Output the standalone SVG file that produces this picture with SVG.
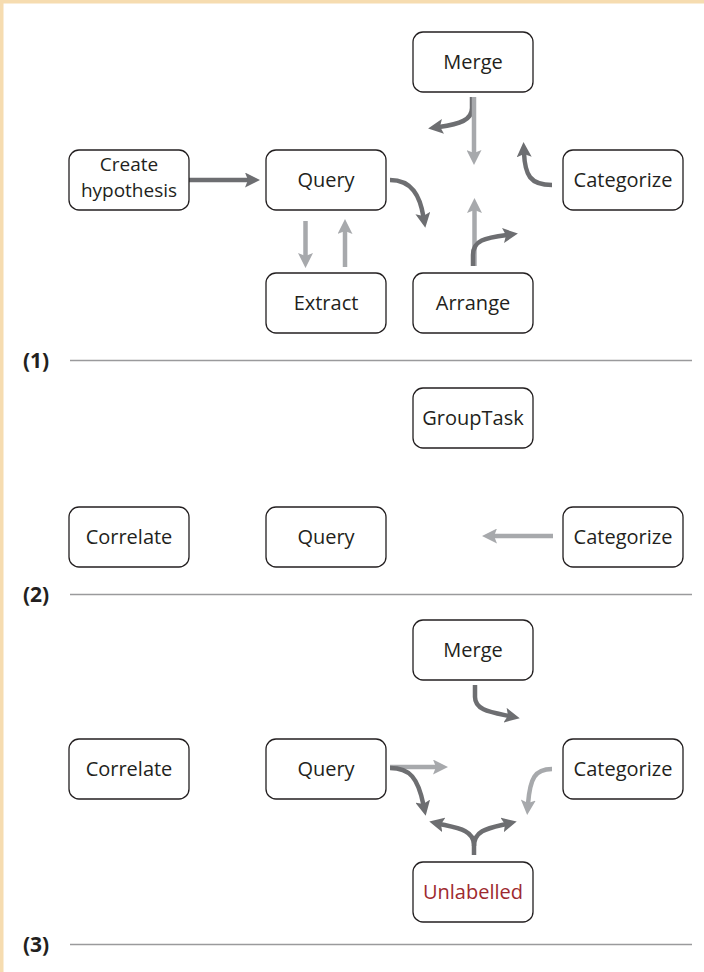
<svg xmlns="http://www.w3.org/2000/svg" width="704" height="972" viewBox="0 0 704 972">
<style>
.box{fill:#fff;stroke:#231f20;stroke-width:1.3}
.lbl{font-family:"Open Sans","Noto Sans",sans-serif;font-size:20px;fill:#231f20;text-anchor:middle}
.sm{font-size:19px}
.red{fill:#9e2a2f}
.num{font-family:"Open Sans","Noto Sans",sans-serif;font-size:21px;font-weight:bold;fill:#231f20}
.div{stroke:#9a9a9c;stroke-width:1.3}
.dk{fill:none;stroke:#6d6e71;stroke-width:4.5;marker-end:url(#ad)}
.lt{fill:none;stroke:#a7a9ac;stroke-width:4.5;marker-end:url(#al)}
</style>
<defs>
<marker id="ad" viewBox="0 0 15 15" refX="4" refY="7.5" markerWidth="15" markerHeight="15" markerUnits="userSpaceOnUse" orient="auto"><path d="M0,0 L15,7.5 L0,15 L3,7.5 z" fill="#6d6e71"/></marker>
<marker id="al" viewBox="0 0 15 15" refX="4" refY="7.5" markerWidth="15" markerHeight="15" markerUnits="userSpaceOnUse" orient="auto"><path d="M0,0 L15,7.5 L0,15 L3,7.5 z" fill="#a7a9ac"/></marker>
</defs>
<rect x="0" y="0" width="704" height="972" fill="#fff"/>
<rect x="0" y="0" width="704" height="3.5" fill="#f6dcb0"/>
<rect x="0" y="0" width="3.5" height="972" fill="#f6dcb0"/>

<g id="dividers">
<line class="div" x1="70" y1="360.5" x2="692" y2="360.5"/>
<text class="num" x="23" y="368">(1)</text>
<line class="div" x1="70" y1="594.5" x2="692" y2="594.5"/>
<text class="num" x="23" y="602">(2)</text>
<line class="div" x1="70" y1="944.5" x2="692" y2="944.5"/>
<text class="num" x="23" y="952">(3)</text>
</g>

<g id="connectors">
<path class="dk" d="M189,180 H249"/>
<path class="lt" d="M305.5,221 V257"/>
<path class="lt" d="M345,267 V230"/>
<path class="dk" d="M390,180 C412,180 420,196 423.5,217"/>
<path class="dk" d="M472,97 V108 C472,120 460,124 439,127"/>
<path class="lt" d="M474,97 V154"/>
<path class="dk" d="M552,185 C530,185 525,175 524,153"/>
<path class="lt" d="M474.5,266 V209"/>
<path class="dk" d="M473,266 V255 C473,240 485,238 507,235"/>
<path class="lt" d="M553,536 H493"/>
<path class="dk" d="M475,685 V697 C475,710 490,712 509,716"/>
<path class="lt" d="M390,767 H437"/>
<path class="dk" d="M390,768 C410,768 418,778 423.5,805"/>
<path class="lt" d="M552,769 C535,769 530,778 528,804"/>
<path class="dk" d="M474,855 V845 C474,830 458,828 440,824"/>
<path class="dk" d="M474,846 C474,830 489,828 506,824"/>
</g>

<g id="n_merge1"><rect class="box" x="413" y="32" width="120" height="60" rx="10"/><text class="lbl" x="473" y="69">Merge</text></g>
<g id="n_create"><rect class="box" x="69" y="150" width="120" height="60" rx="10"/><text class="lbl sm" x="129" y="171">Create</text><text class="lbl sm" x="129" y="197">hypothesis</text></g>
<g id="n_query1"><rect class="box" x="266" y="150" width="120" height="60" rx="10"/><text class="lbl" x="326" y="187">Query</text></g>
<g id="n_categorize1"><rect class="box" x="563" y="150" width="120" height="60" rx="10"/><text class="lbl" x="623" y="187">Categorize</text></g>
<g id="n_extract"><rect class="box" x="266" y="273" width="120" height="60" rx="10"/><text class="lbl" x="326" y="310">Extract</text></g>
<g id="n_arrange"><rect class="box" x="413" y="273" width="120" height="60" rx="10"/><text class="lbl" x="473" y="310">Arrange</text></g>

<g id="n_grouptask"><rect class="box" x="413" y="388" width="120" height="60" rx="10"/><text class="lbl" x="473" y="425">GroupTask</text></g>
<g id="n_correlate2"><rect class="box" x="69" y="507" width="120" height="60" rx="10"/><text class="lbl" x="129" y="544">Correlate</text></g>
<g id="n_query2"><rect class="box" x="266" y="507" width="120" height="60" rx="10"/><text class="lbl" x="326" y="544">Query</text></g>
<g id="n_categorize2"><rect class="box" x="563" y="507" width="120" height="60" rx="10"/><text class="lbl" x="623" y="544">Categorize</text></g>

<g id="n_merge3"><rect class="box" x="413" y="620" width="120" height="60" rx="10"/><text class="lbl" x="473" y="657">Merge</text></g>
<g id="n_correlate3"><rect class="box" x="69" y="739" width="120" height="60" rx="10"/><text class="lbl" x="129" y="776">Correlate</text></g>
<g id="n_query3"><rect class="box" x="266" y="739" width="120" height="60" rx="10"/><text class="lbl" x="326" y="776">Query</text></g>
<g id="n_categorize3"><rect class="box" x="563" y="739" width="120" height="60" rx="10"/><text class="lbl" x="623" y="776">Categorize</text></g>
<g id="n_unlabelled"><rect class="box" x="413" y="862" width="120" height="60" rx="10"/><text class="lbl red" x="473" y="899">Unlabelled</text></g>
</svg>
